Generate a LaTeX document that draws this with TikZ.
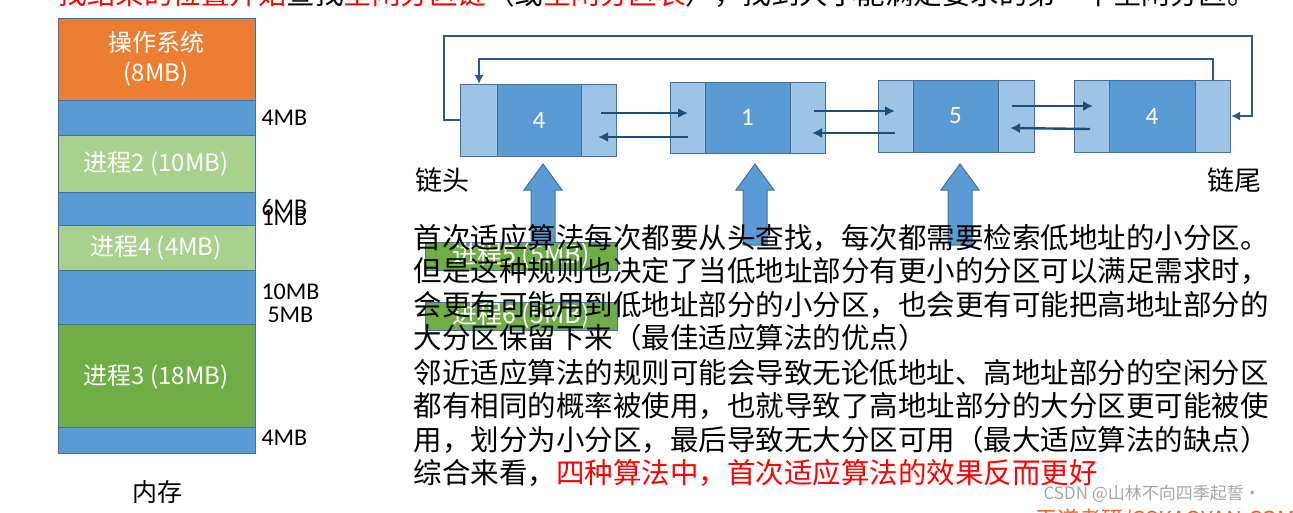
\documentclass[tikz,border=0pt]{standalone}
\usepackage{fontspec}
\setmainfont{Carlito}
\newfontfamily\cjk{Noto Sans CJK SC}
\usetikzlibrary{arrows.meta}
\definecolor{mblue}{HTML}{5B9BD5}
\definecolor{lblue}{HTML}{9DC3E6}
\definecolor{edgeb}{HTML}{41719C}
\definecolor{lgreen}{HTML}{A9D18E}
\definecolor{dgreen}{HTML}{70AD47}
\definecolor{orng}{HTML}{ED7D31}
\definecolor{lnk}{HTML}{2F5597}
\definecolor{ar}{HTML}{1F4E79}
\begin{document}
\begin{tikzpicture}[x=1pt,y=-1pt,
  seg/.style={draw=edgeb,line width=1pt},
  memtxt/.style={text=white,font=\cjk\fontsize{24}{30}\selectfont,align=center},
  mblab/.style={anchor=west,font=\fontsize{24}{24}\selectfont},
  nodetxt/.style={text=white,font=\fontsize{25}{25}\selectfont},
  ptr/.style={draw=ar,line width=2.4pt,-{Latex[length=10pt,width=10pt]}},
  loopl/.style={draw=lnk,line width=2.2pt},
  body/.style={anchor=west,font=\cjk\fontsize{28.5}{28.5}\selectfont},
  uparr/.style={draw=edgeb,fill=mblue,line width=1pt}
]
\useasboundingbox (0,0) rectangle (1293,512);
\clip (0,0) rectangle (1293,512);
% top clipped line
\node[anchor=west,font=\cjk\fontsize{28.5}{28.5}\selectfont] (top) at (55,-6) {\textcolor{red}{找结束的位置开始}查找\textcolor{red}{空闲分区链}（或\textcolor{red}{空闲分区表}），找到大小能满足要求的第一个空闲分区。};
% memory
\filldraw[seg,fill=orng] (58,18) rectangle (255,100);
\node[memtxt] (os) at (156,59) {操作系统\\(8MB)};
\filldraw[seg,fill=mblue] (58,100) rectangle (255,135);
\filldraw[seg,fill=lgreen] (58,135) rectangle (255,192);
\node[memtxt] (p2) at (156,164) {进程2 (10MB)};
\filldraw[seg,fill=mblue] (58,192) rectangle (255,225);
\filldraw[seg,fill=lgreen] (58,225) rectangle (255,270);
\node[memtxt] (p4) at (156,248) {进程4 (4MB)};
\filldraw[seg,fill=mblue] (58,270) rectangle (255,324);
\filldraw[seg,fill=dgreen] (58,324) rectangle (255,427);
\node[memtxt] (p3) at (156,377) {进程3 (18MB)};
\filldraw[seg,fill=mblue] (58,427) rectangle (255,453);
\node[mblab] (m1) at (258,118) {4MB};
\node[mblab] (m2) at (258,207) {6MB};
\node[mblab] (m3) at (258,218) {1MB};
\node[mblab] (m4) at (258,292) {10MB};
\node[mblab] (m5) at (264,315) {5MB};
\node[mblab] (m6) at (258,438) {4MB};
\node[font=\cjk\fontsize{25}{25}\selectfont] (mem) at (157,492) {内存};
% list nodes
\foreach \n/\a/\b/\c/\d/\t/\bot/\v in {A/460/497/581/616/84/156/4,B/670/705/790/825/82/153/1,C/878/913/998/1034/80/152/5,D/1074/1109/1195/1230/80/152/4}{
  \filldraw[seg,fill=lblue] (\a,\t) rectangle (\b,\bot);
  \filldraw[seg,fill=mblue] (\b,\t) rectangle (\c,\bot);
  \filldraw[seg,fill=lblue] (\c,\t) rectangle (\d,\bot);
  \node[nodetxt] (\n) at ({(\b+\c)/2},{(\t+\bot)/2}) {\v};
}
\coordinate (a1) at (601,113); \coordinate (a2) at (688,113);
\draw[ptr] (a1) -- (a2);
\coordinate (a3) at (688,137); \coordinate (a4) at (598,137);
\draw[ptr] (a3) -- (a4);
\coordinate (b1) at (814,111); \coordinate (b2) at (895,111);
\draw[ptr] (b1) -- (b2);
\coordinate (b3) at (895,133); \coordinate (b4) at (812,133);
\draw[ptr] (b3) -- (b4);
\coordinate (c1) at (1012,106); \coordinate (c2) at (1093,106);
\draw[ptr] (c1) -- (c2);
\coordinate (c3) at (1090,129); \coordinate (c4) at (1010,128);
\draw[ptr] (c3) -- (c4);
% loops
\coordinate (o1) at (460,120);
\coordinate (o2) at (1231,116);
\draw[loopl,-{Latex[length=9pt,width=9pt]}] (o1) -- (444,120) -- (444,36) -- (1252,36) -- (1252,116) -- (o2);
\coordinate (i1) at (1213,80);
\coordinate (i2) at (479,84);
\draw[loopl,-{Latex[length=9pt,width=9pt]}] (i1) -- (1213,59) -- (479,59) -- (i2);
\node[font=\cjk\fontsize{27}{27}\selectfont] (head) at (442,180) {链头};
\node[font=\cjk\fontsize{27}{27}\selectfont] (tail) at (1234,180) {链尾};
% up arrows
\foreach \x in {543,755,960}{
  \filldraw[uparr] (\x,164) -- (\x+19,190) -- (\x+12,190) -- (\x+12,245) -- (\x-12,245) -- (\x-12,190) -- (\x-19,190) -- cycle;
}
% green boxes
\node[draw=edgeb,fill=dgreen,minimum width=192pt,minimum height=28pt,inner sep=0pt,text=white,font=\cjk\fontsize{25}{25}\selectfont] (p5) at (521,256) {进程5 (5MB)};
\node[draw=edgeb,fill=dgreen,minimum width=192pt,minimum height=28pt,inner sep=0pt,text=white,font=\cjk\fontsize{25}{25}\selectfont] (p6) at (521,316) {进程6 (5MB)};
% body text
\node[body] (t1) at (410,238) {首次适应算法每次都要从头查找，每次都需要检索低地址的小分区。};
\node[body] (t2) at (410,271) {但是这种规则也决定了当低地址部分有更小的分区可以满足需求时，};
\node[body] (t3) at (410,305) {会更有可能用到低地址部分的小分区，也会更有可能把高地址部分的};
\node[body] (t4) at (410,338) {大分区保留下来（最佳适应算法的优点）};
\node[body] (t5) at (410,373) {邻近适应算法的规则可能会导致无论低地址、高地址部分的空闲分区};
\node[body] (t6) at (410,406) {都有相同的概率被使用，也就导致了高地址部分的大分区更可能被使};
\node[body] (t7) at (410,440) {用，划分为小分区，最后导致无大分区可用（最大适应算法的缺点）};
\node[body] (t8) at (410,473) {综合来看，\textcolor{red}{四种算法中，首次适应算法的效果反而更好}};
\node[anchor=west,text=gray!70,font=\cjk\fontsize{17}{17}\selectfont] (wm) at (1040,494) {CSDN @山林不向四季起誓·};
\node[anchor=west,text=orng!80!red,font=\cjk\fontsize{22}{22}\selectfont] (wd) at (1032,520) {王道考研/CSKAOYAN.COM};
\end{tikzpicture}
\end{document}
